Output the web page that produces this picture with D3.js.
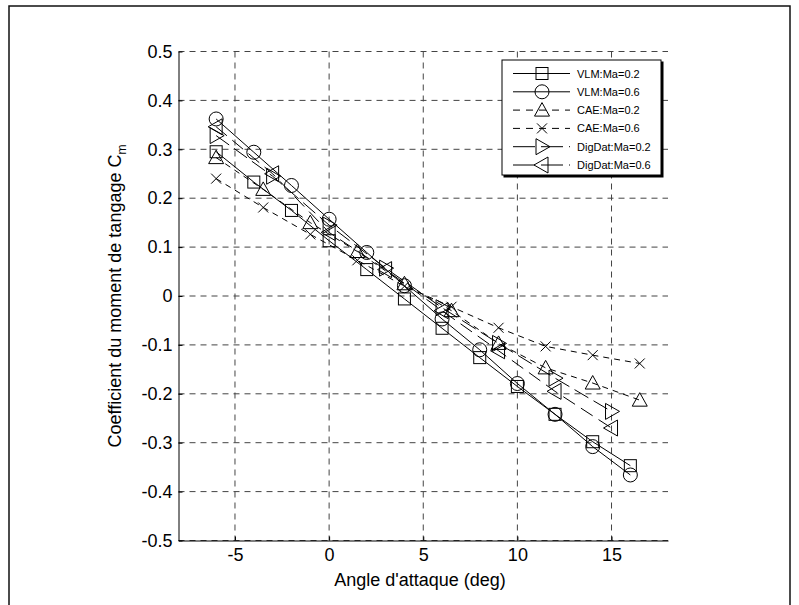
<!DOCTYPE html>
<html>
<head>
<meta charset="utf-8">
<script src="https://cdn.jsdelivr.net/npm/d3@7/dist/d3.min.js"></script>
<style>
  body { margin: 0; background: #fff; }
  svg { display: block; font-family: Arial, "Liberation Sans", sans-serif; }
</style>
</head>
<body>
<div id="chart"></div>
<script>
// angles of attack (deg)
const vlmAlpha = [-6, -4, -2, 0, 2, 4, 6, 8, 10, 12, 14, 16];
const caeAlpha = [-6, -3.5, -1, 1.5, 4, 6.5, 9, 11.5, 14, 16.5];
const digAlpha = [-6, -3, 0, 3, 6, 9, 12, 15];

// pitching moment coefficient Cm
const vlmMa02 = [0.295, 0.233, 0.175, 0.113, 0.054, -0.006, -0.066, -0.126, -0.185, -0.242, -0.298, -0.347];
const vlmMa06 = [0.362, 0.294, 0.226, 0.157, 0.089, 0.021, -0.047, -0.110, -0.179, -0.242, -0.308, -0.366];
const caeMa02 = [0.283, 0.218, 0.150, 0.091, 0.025, -0.030, -0.097, -0.147, -0.178, -0.213];
const caeMa06 = [0.240, 0.181, 0.126, 0.073, 0.020, -0.022, -0.065, -0.103, -0.121, -0.138];
const digMa02 = [0.328, 0.245, 0.145, 0.057, -0.024, -0.097, -0.168, -0.236];
const digMa06 = [0.346, 0.250, 0.130, 0.054, -0.030, -0.112, -0.195, -0.270];

const seriesNames = ['VLM:Ma=0.2', 'VLM:Ma=0.6', 'CAE:Ma=0.2', 'CAE:Ma=0.6', 'DigDat:Ma=0.2', 'DigDat:Ma=0.6'];
const xTicks = [-5, 0, 5, 10, 15];
const yTicks = [-0.5, -0.4, -0.3, -0.2, -0.1, 0, 0.1, 0.2, 0.3, 0.4, 0.5];

const width = 799, height = 605;
const margin = { top: 51.5, right: 131, bottom: 64.5, left: 178.5 };
const W = width - margin.left - margin.right;
const H = height - margin.top - margin.bottom;

const x = d3.scaleLinear().domain([-8, 18]).range([0, W]);
const y = d3.scaleLinear().domain([-0.5, 0.5]).range([H, 0]);

const series = [
  { name: seriesNames[0], xs: vlmAlpha, ys: vlmMa02, marker: 'square', dash: null },
  { name: seriesNames[1], xs: vlmAlpha, ys: vlmMa06, marker: 'circle', dash: null },
  { name: seriesNames[2], xs: caeAlpha, ys: caeMa02, marker: 'up', dash: '6,5' },
  { name: seriesNames[3], xs: caeAlpha, ys: caeMa06, marker: 'cross', dash: '6,5' },
  { name: seriesNames[4], xs: digAlpha, ys: digMa02, marker: 'right', dash: '16,6' },
  { name: seriesNames[5], xs: digAlpha, ys: digMa06, marker: 'left', dash: '14,7' }
];

function drawMarker(sel, type) {
  if (type === 'square') {
    sel.append('rect').attr('x', -6).attr('y', -6).attr('width', 12).attr('height', 12);
  } else if (type === 'circle') {
    sel.append('circle').attr('r', 7);
  } else if (type === 'up') {
    sel.append('path').attr('d', 'M0,-7.5L7.5,6L-7.5,6Z');
  } else if (type === 'right') {
    sel.append('path').attr('d', 'M8,0L-6,-8L-6,8Z');
  } else if (type === 'left') {
    sel.append('path').attr('d', 'M-8,0L6,-8L6,8Z');
  } else if (type === 'cross') {
    sel.append('path').attr('d', 'M-5,-5L5,5M-5,5L5,-5');
  }
}

const fmt = d => String(+d.toFixed(1));

const svg = d3.select('#chart').append('svg')
  .attr('width', width).attr('height', height);

// outer frame
svg.append('rect').attr('x', 9).attr('y', 6).attr('width', 781).attr('height', 620)
  .attr('fill', 'none').attr('stroke', '#111').attr('stroke-width', 1.5);

const g = svg.append('g').attr('transform', `translate(${margin.left},${margin.top})`);

// grid
g.append('g').selectAll('line').data(xTicks).join('line')
  .attr('x1', d => x(d)).attr('x2', d => x(d)).attr('y1', 0).attr('y2', H)
  .attr('stroke', '#444').attr('stroke-dasharray', '6,5');
g.append('g').selectAll('line').data(yTicks).join('line')
  .attr('x1', 0).attr('x2', W).attr('y1', d => y(d)).attr('y2', d => y(d))
  .attr('stroke', '#444').attr('stroke-dasharray', '6,5');

// axes
const xAxis = g.append('g').attr('transform', `translate(0,${H})`)
  .call(d3.axisBottom(x).tickValues(xTicks).tickFormat(fmt).tickSizeInner(-4).tickSizeOuter(0).tickPadding(8));
const yAxis = g.append('g')
  .call(d3.axisLeft(y).tickValues(yTicks).tickFormat(fmt).tickSizeInner(-4).tickSizeOuter(0).tickPadding(6));
[xAxis, yAxis].forEach(ax => {
  ax.select('.domain').attr('stroke', '#000');
  ax.selectAll('.tick line').attr('stroke', '#000');
  ax.selectAll('text').attr('font-size', '18px').attr('fill', '#000');
});

// series lines and markers
const line = d3.line().x(d => x(d[0])).y(d => y(d[1]));
series.forEach(s => {
  const pts = s.xs.map((a, i) => [a, s.ys[i]]);
  g.append('path').datum(pts).attr('d', line)
    .attr('fill', 'none').attr('stroke', '#000').attr('stroke-width', 1)
    .attr('stroke-dasharray', s.dash);
  pts.forEach(p => {
    const m = g.append('g').attr('transform', `translate(${x(p[0])},${y(p[1])})`)
      .attr('fill', 'none').attr('stroke', '#000').attr('stroke-width', 1);
    drawMarker(m, s.marker);
  });
});

// axis titles
svg.append('text').attr('x', 420).attr('y', 586)
  .attr('text-anchor', 'middle').attr('font-size', '18px').attr('fill', '#000')
  .text("Angle d'attaque (deg)");

const yl = svg.append('text')
  .attr('transform', `translate(121,${margin.top + y(0)}) rotate(-90)`)
  .attr('text-anchor', 'middle').attr('font-size', '18px').attr('fill', '#000');
yl.append('tspan').text('Coefficient du moment de tangage C');
yl.append('tspan').attr('font-size', '12px').attr('dy', 5).text('m');

// legend
const leg = svg.append('g').attr('transform', 'translate(502,60)');
leg.append('rect').attr('x', 1.5).attr('y', 1.5).attr('width', 160).attr('height', 116).attr('fill', '#000');
leg.append('rect').attr('width', 159).attr('height', 115)
  .attr('fill', '#fff').attr('stroke', '#000').attr('stroke-width', 1);
series.forEach((s, i) => {
  const ry = 13.5 + i * 18.3;
  leg.append('line').attr('x1', 11).attr('x2', 68).attr('y1', ry).attr('y2', ry)
    .attr('stroke', '#000').attr('stroke-dasharray', s.dash ? (s.marker === 'right' || s.marker === 'left' ? '22,6' : '7,6') : null);
  const m = leg.append('g').attr('transform', `translate(40,${ry})`)
    .attr('fill', 'none').attr('stroke', '#000');
  drawMarker(m, s.marker);
  leg.append('text').attr('x', 75).attr('y', ry + 4).attr('font-size', '11px').attr('fill', '#000')
    .text(s.name);
});
</script>
</body>
</html>
